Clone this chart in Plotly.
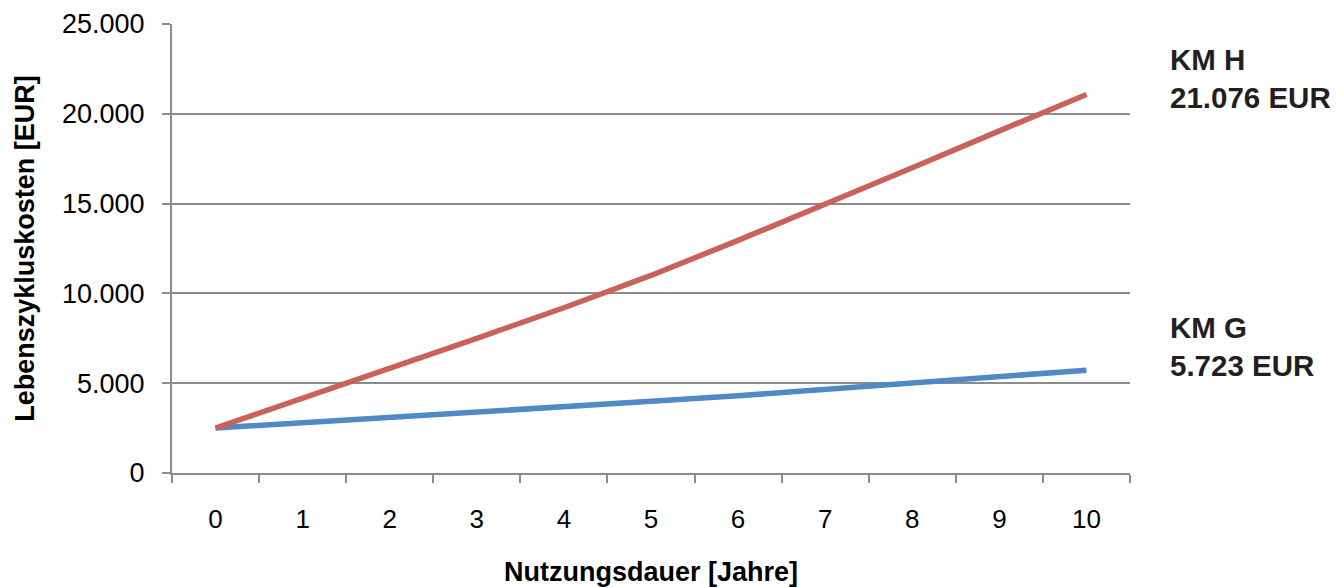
import plotly.graph_objects as go

years = [str(i) for i in range(11)]
km_h = [2500, 4150, 5830, 7500, 9200, 11000, 12950, 14950, 17000, 19050, 21076]
km_g = [2500, 2790, 3070, 3350, 3700, 3990, 4300, 4640, 5000, 5370, 5723]
y_ticks = [0, 5000, 10000, 15000, 20000, 25000]
end_labels = [("KM H", "21.076 EUR", 0.878), ("KM G", "5.723 EUR", 0.281)]

GRAY = "#8c8c8c"
FONT = "Liberation Sans, Arial, sans-serif"

fig = go.Figure()
fig.add_trace(go.Scatter(x=years, y=km_g, mode="lines", name="KM G",
                         line=dict(color="#4f8ac6", width=5.5)))
fig.add_trace(go.Scatter(x=years, y=km_h, mode="lines", name="KM H",
                         line=dict(color="#c9625a", width=5.5)))

for t1, t2, yy in end_labels:
    fig.add_annotation(x=1.04, y=yy, xref="paper", yref="paper", xanchor="left",
                       yanchor="middle", align="left", showarrow=False,
                       text=f"<b>{t1}<br>{t2}</b>",
                       font=dict(family=FONT, size=29.5, color="#231f20"))

# page body has an 8px margin, so the figure is sized/offset to compensate
fig.update_layout(
    width=1334, height=579,
    margin=dict(l=164, r=212, t=16, b=114),
    paper_bgcolor="white", plot_bgcolor="white",
    showlegend=False,
    separators=",.",
    font=dict(family=FONT, color="#000000"),
)
fig.update_xaxes(
    type="category", range=[-0.5, 10.5], tickson="boundaries", automargin=False,
    showline=True, linecolor=GRAY, linewidth=2,
    ticks="outside", ticklen=8, tickwidth=2, tickcolor=GRAY,
    showgrid=False, ticklabelstandoff=22,
    tickfont=dict(size=26, family=FONT),
    title=dict(text="<b>Nutzungsdauer [Jahre]</b>", standoff=35,
               font=dict(size=27, family=FONT)),
)
fig.update_yaxes(
    range=[0, 25000], tickvals=y_ticks, tickformat=",d", automargin=False,
    showline=True, linecolor=GRAY, linewidth=2,
    ticks="outside", ticklen=8, tickwidth=2, tickcolor=GRAY,
    showgrid=True, gridcolor=GRAY, gridwidth=2, zeroline=False,
    ticklabelstandoff=12,
    tickfont=dict(size=27, family=FONT),
    title=dict(text="<b>Lebenszykluskosten [EUR]</b>", standoff=20,
               font=dict(size=27, family=FONT)),
)

fig.write_html("out.html")
